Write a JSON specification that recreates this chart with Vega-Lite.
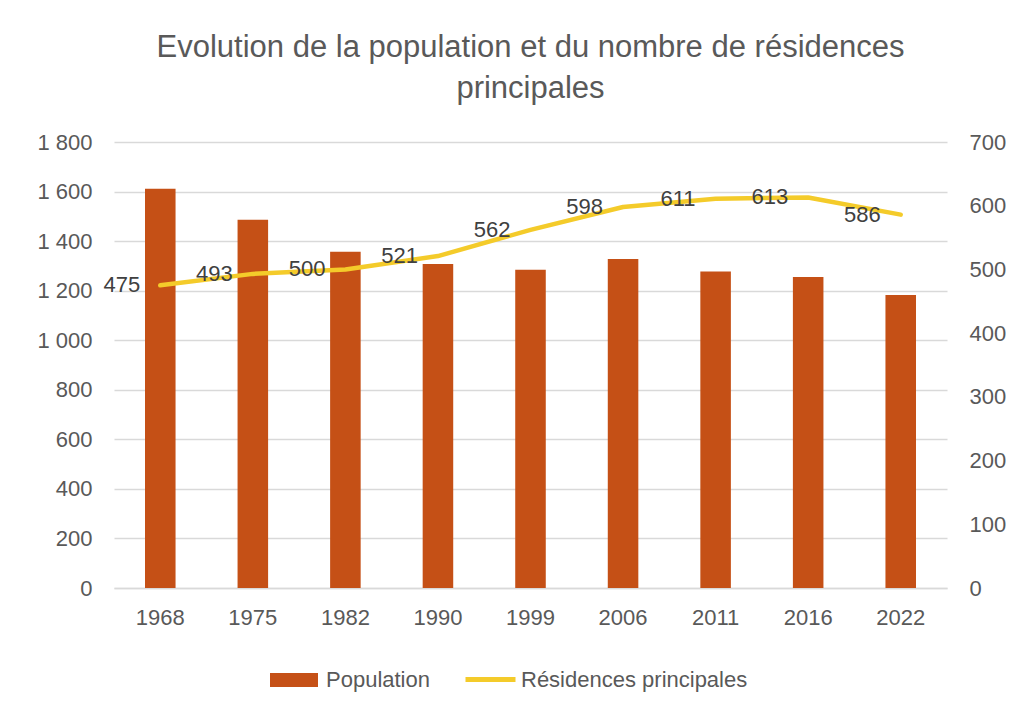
{
  "$schema": "https://vega.github.io/schema/vega-lite/v6.json",
  "width": 833,
  "height": 446,
  "padding": {"left": 36, "top": 32, "right": 20, "bottom": 10},
  "background": "white",
  "config": {
    "font": "Liberation Sans",
    "view": {"stroke": null},
    "axis": {"labelColor": "#595959", "labelFontSize": 22, "labelFont": "Liberation Sans", "titleFontSize": 14},
    "legend": {"labelColor": "#595959", "labelFontSize": 22, "labelFont": "Liberation Sans", "labelLimit": 400}
  },
  "title": {
    "text": ["Evolution de la population et du nombre de résidences", "principales"],
    "fontSize": 31,
    "fontWeight": "normal",
    "color": "#595959",
    "lineHeight": 41,
    "offset": 26,
    "anchor": "middle",
    "font": "Liberation Sans"
  },
  "data": {
    "values": [
      {"annee": "1968", "pop": 1611, "res": 475},
      {"annee": "1975", "pop": 1486, "res": 493},
      {"annee": "1982", "pop": 1357, "res": 500},
      {"annee": "1990", "pop": 1308, "res": 521},
      {"annee": "1999", "pop": 1284, "res": 562},
      {"annee": "2006", "pop": 1328, "res": 598},
      {"annee": "2011", "pop": 1277, "res": 611},
      {"annee": "2016", "pop": 1255, "res": 613},
      {"annee": "2022", "pop": 1183, "res": 586}
    ]
  },
  "encoding": {
    "x": {
      "field": "annee",
      "type": "ordinal",
      "sort": null,
      "scale": {"paddingInner": 0.67, "paddingOuter": 0.335},
      "axis": {"title": null, "labelAngle": 0, "domain": true, "domainColor": "#d9d9d9", "domainWidth": 1.5, "ticks": false, "labelPadding": 19}
    }
  },
  "layer": [
    {
      "mark": {"type": "bar", "color": "#C55016"},
      "encoding": {
        "y": {
          "field": "pop",
          "type": "quantitative",
          "scale": {"domain": [0, 1800]},
          "axis": {
            "title": null,
            "values": [0, 200, 400, 600, 800, 1000, 1200, 1400, 1600, 1800],
            "labelExpr": "replace(format(datum.value, ','), ',', ' ')",
            "domain": false,
            "ticks": false,
            "gridColor": "#d9d9d9",
            "gridWidth": 1.5,
            "labelPadding": 22
          }
        },
        "fill": {
          "datum": "Population",
          "type": "nominal",
          "scale": {"range": ["#C55016"]},
          "legend": {
            "title": null,
            "orient": "none",
            "legendX": 156,
            "legendY": 514,
            "symbolType": "M-1,-0.29H1V0.29H-1Z",
            "symbolSize": 2304,
            "symbolStrokeWidth": 0,
            "labelOffset": 8
          }
        }
      }
    },
    {
      "layer": [
        {
          "mark": {"type": "line", "color": "#F4CB2A", "strokeWidth": 4.5, "strokeCap": "round", "strokeJoin": "round"},
          "encoding": {
            "y": {
              "field": "res",
              "type": "quantitative",
              "scale": {"domain": [0, 700]},
              "axis": {
                "title": null,
                "orient": "right",
                "values": [0, 100, 200, 300, 400, 500, 600, 700],
                "domain": false,
                "ticks": false,
                "grid": false,
                "labelPadding": 22
              }
            },
            "stroke": {
              "datum": "Résidences principales",
              "type": "nominal",
              "scale": {"range": ["#F4CB2A"]},
              "legend": {
                "title": null,
                "orient": "none",
                "legendX": 349,
                "legendY": 510,
                "symbolType": "stroke",
                "symbolSize": 2500,
                "symbolStrokeWidth": 5,
                "labelOffset": 3
              }
            }
          }
        },
        {
          "mark": {"type": "text", "align": "right", "baseline": "middle", "dx": -20, "fontSize": 22, "color": "#404040"},
          "encoding": {
            "y": {"field": "res", "type": "quantitative"},
            "text": {"field": "res", "type": "quantitative"}
          }
        }
      ]
    }
  ],
  "resolve": {"scale": {"y": "independent", "fill": "independent", "stroke": "independent"}}
}
